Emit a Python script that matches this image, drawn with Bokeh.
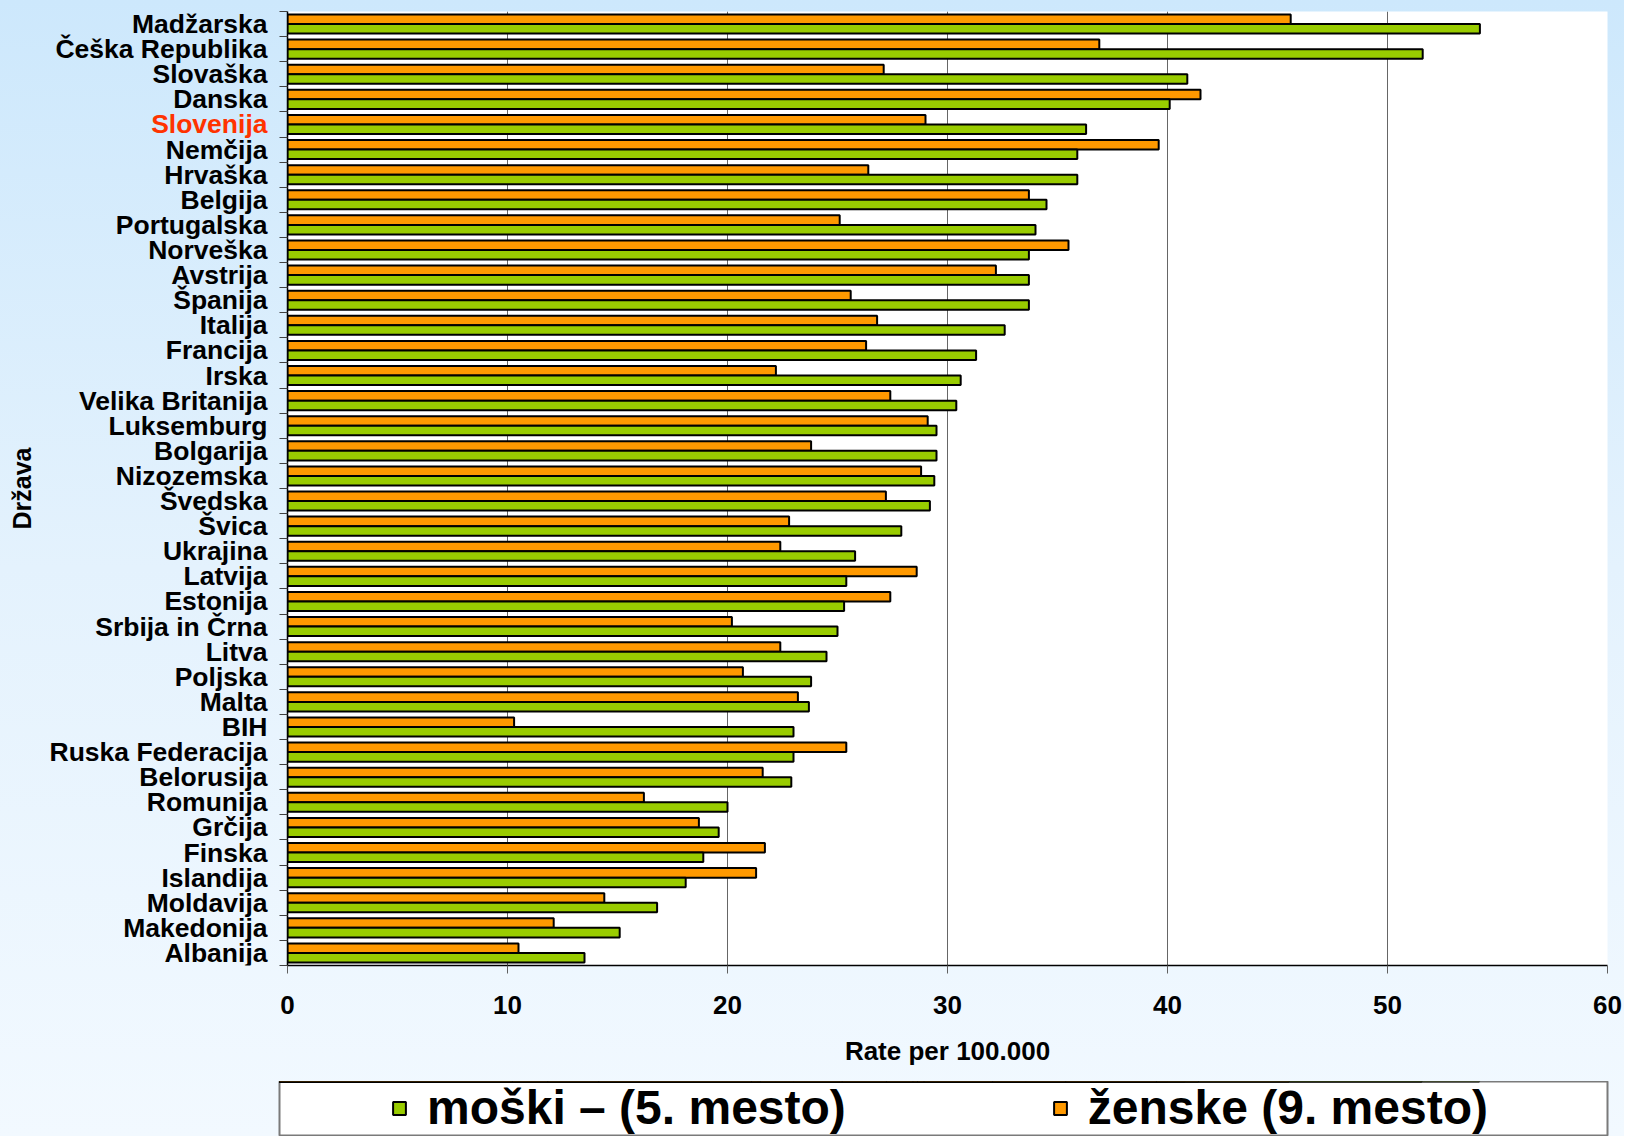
from bokeh.plotting import figure
from bokeh.layouts import row, column
from bokeh.models import (Range1d, FixedTicker, Legend, LegendItem,
                          ColumnDataSource)
from bokeh.embed import file_html
from bokeh.resources import INLINE

countries = ["Madžarska", "Češka Republika", "Slovaška", "Danska", "Slovenija",
             "Nemčija", "Hrvaška", "Belgija", "Portugalska", "Norveška",
             "Avstrija", "Španija", "Italija", "Francija", "Irska",
             "Velika Britanija", "Luksemburg", "Bolgarija", "Nizozemska",
             "Švedska", "Švica", "Ukrajina", "Latvija", "Estonija",
             "Srbija in Črna", "Litva", "Poljska", "Malta", "BIH",
             "Ruska Federacija", "Belorusija", "Romunija", "Grčija", "Finska",
             "Islandija", "Moldavija", "Makedonija", "Albanija"]
men = [54.2, 51.6, 40.9, 40.1, 36.3, 35.9, 35.9, 34.5, 34.0, 33.7,
       33.7, 33.7, 32.6, 31.3, 30.6, 30.4, 29.5, 29.5, 29.4, 29.2,
       27.9, 25.8, 25.4, 25.3, 25.0, 24.5, 23.8, 23.7, 23.0, 23.0,
       22.9, 20.0, 19.6, 18.9, 18.1, 16.8, 15.1, 13.5]
women = [45.6, 36.9, 27.1, 41.5, 29.0, 39.6, 26.4, 33.7, 25.1, 35.5,
         32.2, 25.6, 26.8, 26.3, 22.2, 27.4, 29.1, 23.8, 28.8, 27.2,
         22.8, 22.4, 28.6, 27.4, 20.2, 22.4, 20.7, 23.2, 10.3, 25.4,
         21.6, 16.2, 18.7, 21.7, 21.3, 14.4, 12.1, 10.5]
x_ticks = [0, 10, 20, 30, 40, 50, 60]
highlight = "Slovenija"
label_men = "moški – (5. mesto)"
label_women = "ženske (9. mesto)"
x_title = "Rate per 100.000"
y_title = "Država"

FONT = "Liberation Sans"
GREEN = "#99CC00"
ORANGE = "#FF9900"
n = len(countries)
centers = [n - i - 0.5 for i in range(n)]
y_women = [c + 0.19 for c in centers]
y_men = [c - 0.19 for c in centers]
label_colors = ["#FF3300" if c == highlight else "black" for c in countries]

src = ColumnDataSource(dict(country=countries, men=men, women=women,
                            y_men=y_men, y_women=y_women, centers=centers,
                            color=label_colors))

y_range = Range1d(0, n)
TOP, FRAME_H, BOTTOM = 11, 954, 116
MAIN_H = TOP + FRAME_H + BOTTOM

# ---------------- main chart ----------------
p = figure(width=1345, height=MAIN_H, output_backend="svg", toolbar_location=None,
           x_range=Range1d(0, 60), y_range=y_range,
           min_border_left=8, min_border_right=17, min_border_top=TOP,
           min_border_bottom=BOTTOM)
p.border_fill_color = None
p.background_fill_color = "white"
p.outline_line_color = None

r_w = p.hbar(y="y_women", left=0, right="women", height=0.38, source=src,
             fill_color=ORANGE, line_color="black", line_width=2)
r_m = p.hbar(y="y_men", left=0, right="men", height=0.38, source=src,
             fill_color=GREEN, line_color="black", line_width=2)

xa = p.xaxis[0]
xa.ticker = FixedTicker(ticks=x_ticks)
xa.axis_label = x_title
xa.axis_label_text_font = FONT
xa.axis_label_text_font_size = "26px"
xa.axis_label_text_font_style = "bold"
xa.axis_label_text_color = "black"
xa.axis_label_standoff = 19
xa.major_label_text_font = FONT
xa.major_label_text_font_size = "26px"
xa.major_label_text_font_style = "bold"
xa.major_label_text_color = "black"
xa.major_label_standoff = 22
xa.major_tick_out = 8
xa.major_tick_in = 0
xa.major_tick_line_color = "#606060"
xa.minor_tick_line_color = None
xa.axis_line_color = "black"
xa.axis_line_width = 1.5

ya = p.yaxis[0]
ya.ticker = FixedTicker(ticks=[], minor_ticks=list(range(0, n + 1)))
ya.major_tick_out = 0
ya.major_tick_in = 0
ya.major_label_standoff = 0
ya.minor_tick_out = 8
ya.minor_tick_in = 0
ya.minor_tick_line_color = "#404040"
ya.axis_line_color = "black"
ya.axis_line_width = 1.5

p.xgrid.grid_line_color = "#666666"
p.xgrid.grid_line_width = 1
p.ygrid.grid_line_color = None

# ---------------- country labels ----------------
lab = figure(width=279, height=MAIN_H, output_backend="svg", toolbar_location=None,
             x_range=Range1d(0, 1), y_range=y_range, x_axis_location=None,
             min_border_left=40, min_border_right=0, min_border_top=TOP,
             min_border_bottom=BOTTOM)
lab.border_fill_color = None
lab.background_fill_color = None
lab.outline_line_color = None
lab.grid.grid_line_color = None
lab.text(x=1, y="centers", text="country", source=src, x_offset=-12,
         text_align="right", text_baseline="middle", text_color="color",
         text_font={"value": FONT}, text_font_size="26.5px",
         text_font_style="bold")
la = lab.yaxis[0]
la.ticker = FixedTicker(ticks=[])
la.axis_line_color = None
la.major_tick_line_color = None
la.minor_tick_line_color = None
la.major_label_text_font_size = "0px"
la.axis_label = y_title
la.axis_label_text_font = FONT
la.axis_label_text_font_size = "25px"
la.axis_label_text_font_style = "bold"
la.axis_label_text_color = "black"
la.axis_label_standoff = 5

# ---------------- legend box ----------------
LEG_H = 55
leg = figure(width=1624, height=LEG_H, output_backend="svg", toolbar_location=None,
             x_range=Range1d(0, 60), y_range=Range1d(-3, -2),
             x_axis_location=None, y_axis_location=None,
             min_border_left=279, min_border_right=17, min_border_top=0,
             min_border_bottom=0)
leg.border_fill_color = None
leg.background_fill_color = "white"
leg.outline_line_color = "#7a7a7a"
leg.outline_line_width = 2
leg.grid.grid_line_color = None
# same series, kept out of this strip's view: only their legend swatches show
k_m = leg.hbar(y="y_men", left=0, right="men", height=0.38, source=src,
               fill_color=GREEN, line_color="black", line_width=2)
k_w = leg.hbar(y="y_women", left=0, right="women", height=0.38, source=src,
               fill_color=ORANGE, line_color="black", line_width=2)
legend = Legend(items=[LegendItem(label=label_men, renderers=[k_m]),
                       LegendItem(label=label_women, renderers=[k_w])],
                orientation="horizontal", location=(112, 1),
                padding=0, margin=0, spacing=206, label_standoff=20,
                glyph_width=16, glyph_height=16,
                label_text_font=FONT, label_text_font_size="48px",
                label_text_font_style="bold", label_text_color="black",
                border_line_color=None, background_fill_alpha=0)
leg.add_layout(legend, "center")

layout = column(row(lab, p), leg)
layout.styles = {"background": "linear-gradient(to bottom, #cde8fc 0%, #e4f2fd 50%, #f2f9ff 100%)"}

open("out.html", "w").write(file_html(layout, INLINE))
